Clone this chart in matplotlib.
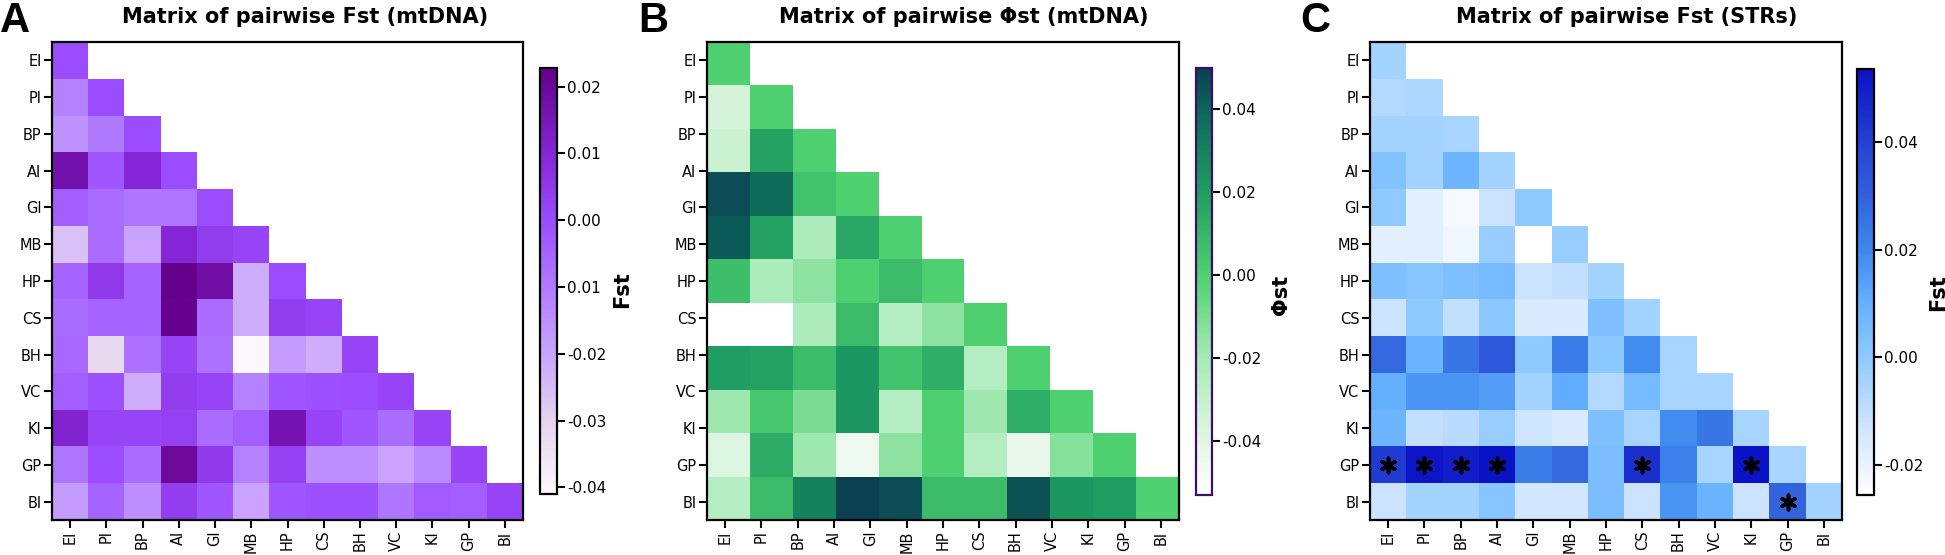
import numpy as np
import matplotlib
matplotlib.use('Agg')
import matplotlib.pyplot as plt
from matplotlib.colors import LinearSegmentedColormap

plt.rcParams['font.family'] = 'DejaVu Sans'
plt.rcParams['axes.unicode_minus'] = False

# population labels (same order on both axes)
pops = ['EI', 'PI', 'BP', 'AI', 'GI', 'MB', 'HP', 'CS', 'BH', 'VC', 'KI', 'GP', 'BI']

# A: pairwise Fst (mtDNA), lower triangle incl. diagonal
fst_mt = [
    [0.000],
    [-0.012, 0.000],
    [-0.016, -0.010, 0.000],
    [0.017, -0.002, 0.010, 0.000],
    [-0.004, -0.007, -0.009, -0.009, 0.000],
    [-0.026, -0.007, -0.020, 0.010, 0.004, 0.002],
    [-0.005, 0.005, -0.005, 0.0228, 0.018, -0.022, 0.000],
    [-0.007, -0.005, -0.005, 0.022, -0.007, -0.022, 0.004, 0.002],
    [-0.006, -0.032, -0.008, 0.002, -0.008, -0.041, -0.018, -0.022, 0.002],
    [-0.004, -0.001, -0.022, 0.004, 0.002, -0.012, -0.002, -0.001, 0.000, 0.002],
    [0.011, 0.002, 0.002, 0.003, -0.007, -0.004, 0.016, 0.002, -0.002, -0.007, 0.002],
    [-0.009, 0.000, -0.007, 0.020, 0.005, -0.012, 0.003, -0.015, -0.015, -0.020, -0.014, 0.002],
    [-0.018, -0.005, -0.015, 0.004, -0.002, -0.020, -0.002, -0.001, -0.001, -0.009, -0.003, -0.004, 0.002],
]

# B: pairwise PhiST (mtDNA) - the original matrix only has 11 rows/cols
phist_mt = [
    [0.000],
    [-0.035, 0.000],
    [-0.032, 0.018, 0.000],
    [0.046, 0.038, 0.006, 0.000],
    [0.043, 0.018, -0.022, 0.016, 0.000],
    [0.007, -0.022, -0.014, 0.000, 0.008, 0.000],
    [-0.053, -0.053, -0.022, 0.008, -0.025, -0.014, 0.000],
    [0.020, 0.018, 0.008, 0.022, 0.005, 0.013, -0.025, 0.000],
    [-0.018, 0.004, -0.010, 0.022, -0.025, 0.000, -0.018, 0.013, 0.000],
    [-0.038, 0.014, -0.018, -0.045, -0.014, 0.000, -0.025, -0.043, -0.012, 0.000],
    [-0.025, 0.008, 0.030, 0.050, 0.046, 0.008, 0.008, 0.045, 0.022, 0.020, 0.000],
]

# C: pairwise Fst (STRs)
fst_str = [
    [-0.004],
    [-0.007, -0.006],
    [-0.004, -0.004, -0.005],
    [0.003, -0.004, 0.008, -0.004],
    [0.000, -0.018, -0.023, -0.012, 0.000],
    [-0.018, -0.018, -0.021, -0.002, -0.0255, -0.002],
    [0.004, 0.002, 0.004, 0.006, -0.012, -0.010, -0.004],
    [-0.012, 0.000, -0.010, 0.001, -0.016, -0.016, 0.004, -0.004],
    [0.028, 0.009, 0.025, 0.033, 0.000, 0.023, 0.001, 0.019, -0.005],
    [0.010, 0.017, 0.017, 0.015, -0.004, 0.011, -0.007, 0.006, -0.005, -0.005],
    [0.008, -0.010, -0.008, -0.002, -0.013, -0.016, 0.004, -0.005, 0.019, 0.025, -0.005],
    [0.042, 0.052, 0.050, 0.0535, 0.023, 0.028, 0.005, 0.045, 0.022, -0.005, 0.053, -0.005],
    [-0.012, -0.004, -0.004, 0.002, -0.014, -0.014, 0.005, -0.012, 0.017, 0.009, -0.012, 0.030, -0.004],
]
# significant pairs (row, column) marked with *
sig_str = [('GP', 'EI'), ('GP', 'PI'), ('GP', 'BP'), ('GP', 'AI'),
           ('GP', 'CS'), ('GP', 'KI'), ('BI', 'GP')]

cmap_a = [(-0.041, '#fbf8fb'), (-0.03, '#e3d3ee'), (-0.02, '#c9a3ff'), (-0.01, '#b07aff'),
          (0.0, '#9b4cff'), (0.01, '#8526d6'), (0.0228, '#65008a')]
cmap_b = [(-0.053, '#ffffff'), (-0.04, '#e2f6e4'), (-0.02, '#a6eab6'), (0.0, '#4fd070'),
          (0.02, '#1f9d62'), (0.04, '#0d6659'), (0.050, '#0b3f52')]
cmap_c = [(-0.0255, '#ffffff'), (-0.02, '#eaf3ff'), (-0.01, '#c2dfff'), (0.0, '#8ecaff'),
          (0.01, '#66b0ff'), (0.02, '#3e88ee'), (0.03, '#3262dc'), (0.04, '#2442d2'),
          (0.0535, '#0a12c6')]


def tri(rows):
    n = len(rows)
    m = np.full((n, n), np.nan)
    for i, r in enumerate(rows):
        m[i, :len(r)] = r
    return np.ma.masked_invalid(m)


def make_cmap(anchors, vmin, vmax):
    pts = [(min(max((v - vmin) / (vmax - vmin), 0), 1), c) for v, c in anchors]
    pts[0] = (0.0, pts[0][1])
    pts[-1] = (1.0, pts[-1][1])
    return LinearSegmentedColormap.from_list('c', pts)


W, H = 1945.0, 555.0
fig = plt.figure(figsize=(19.45, 5.55), dpi=100)


def draw(ax_px, cb_px, rows, anchors, cticks, clabels, outline='black'):
    m = tri(rows)
    vmin, vmax = float(m.min()), float(m.max())
    cmap = make_cmap(anchors, vmin, vmax)
    x0, x1, y0, y1 = ax_px
    ax = fig.add_axes([x0 / W, 1 - y1 / H, (x1 - x0) / W, (y1 - y0) / H])
    edges = np.linspace(0, len(pops), m.shape[0] + 1)
    mesh = ax.pcolormesh(edges, edges, m, cmap=cmap, vmin=vmin, vmax=vmax)
    ax.set_xlim(0, len(pops))
    ax.set_ylim(len(pops), 0)
    ax.set_xticks(np.arange(len(pops)) + 0.5)
    ax.set_xticklabels(pops, rotation=90, fontsize=10.5)
    ax.set_yticks(np.arange(len(pops)) + 0.5)
    ax.set_yticklabels(pops, fontsize=10.5)
    ax.tick_params(length=6, width=1.5, pad=1.5)
    for s in ax.spines.values():
        s.set_linewidth(1.6)
    c0, c1, d0, d1 = cb_px
    cax = fig.add_axes([c0 / W, 1 - d1 / H, (c1 - c0) / W, (d1 - d0) / H])
    cb = fig.colorbar(mesh, cax=cax)
    cb.set_ticks(cticks)
    cb.set_ticklabels(clabels)
    cb.ax.tick_params(labelsize=11, length=6, width=1.5, pad=1.5)
    cb.outline.set_linewidth(1.6)
    cb.outline.set_edgecolor(outline)
    return ax


ax_a = draw((52, 523, 42, 520), (540, 557, 68, 494), fst_mt, cmap_a,
            [0.02, 0.01, 0.0, -0.01, -0.02, -0.03, -0.04],
            ['0.02', '0.01', '0.00', '0.01', '-0.02', '-0.03', '-0.04'])
ax_b = draw((707, 1179, 42, 520), (1196, 1212, 68, 495), phist_mt, cmap_b,
            [0.04, 0.02, 0.0, -0.02, -0.04],
            ['0.04', '0.02', '0.00', '-0.02', '-0.04'], outline='#3b1060')
ax_c = draw((1370, 1842, 42, 520), (1857, 1874, 69, 495), fst_str, cmap_c,
            [0.04, 0.02, 0.0, -0.02],
            ['0.04', '0.02', '0.00', '-0.02'])

for r, c in sig_str:
    ax_c.scatter(pops.index(c) + 0.5, pops.index(r) + 0.5, marker=(6, 2, 0),
                 s=110, linewidths=2.6, color='black', zorder=5)

# titles, panel letters and colorbar labels
fig.text(305 / W, 1 - 17 / H, 'Matrix of pairwise Fst (mtDNA)', ha='center', va='center',
         fontsize=15, fontweight='bold')
fig.text(964 / W, 1 - 17 / H, 'Matrix of pairwise \u03a6st (mtDNA)', ha='center', va='center',
         fontsize=15, fontweight='bold')
fig.text(1627 / W, 1 - 17 / H, 'Matrix of pairwise Fst (STRs)', ha='center', va='center',
         fontsize=15, fontweight='bold')

for x, letter in [(0, 'A'), (638, 'B'), (1300, 'C')]:
    fig.text(x / W, 1 - 21 / H, letter, ha='left', va='center', fontsize=30,
             fontweight='bold', family='Liberation Sans')

fig.text(622 / W, 1 - 290 / H, 'Fst', rotation=90, ha='center', va='center',
         fontsize=15, fontweight='bold')
fig.text(1281 / W, 1 - 295 / H, '\u03a6st', rotation=90, ha='center', va='center',
         fontsize=15, fontweight='bold')
fig.text(1938 / W, 1 - 293 / H, 'Fst', rotation=90, ha='center', va='center',
         fontsize=15, fontweight='bold')

fig.savefig('out.png', dpi=100)
